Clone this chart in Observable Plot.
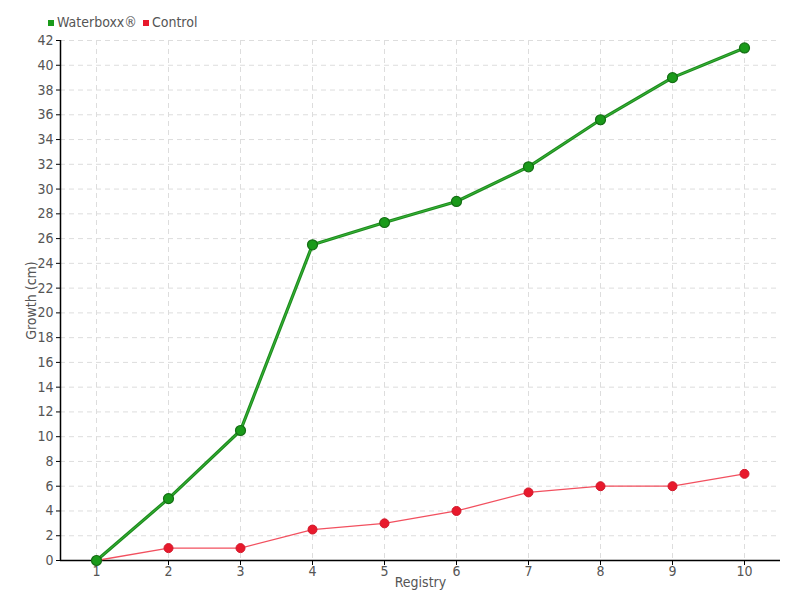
<!DOCTYPE html>
<html><head><meta charset="utf-8">
<script src="https://cdn.jsdelivr.net/npm/d3@7"></script>
<script src="https://cdn.jsdelivr.net/npm/@observablehq/plot@0.6"></script>
<style>
body{margin:0;background:#fff;font-family:"Liberation Sans Narrow","DejaVu Sans Condensed","DejaVu Sans",sans-serif;font-stretch:condensed;}
#wrap{position:relative;width:800px;height:600px;}
#legend{position:absolute;left:48px;top:14px;font-size:14px;color:#555;display:flex;gap:6px;align-items:center;}
#legend span.sw{display:inline-block;width:6px;height:6px;margin-right:3px;vertical-align:middle;}
svg text{font-stretch:condensed;}
</style></head>
<body><div id="wrap"><div id="legend"></div></div>
<script>
const registry = [1,2,3,4,5,6,7,8,9,10];
const waterboxx = [0,5,10.5,25.5,27.3,29,31.8,35.6,39,41.4];
const control = [0,1,1,2.5,3,4,5.5,6,6,7];
const yTicks = d3.range(0,43,2);
const seriesNames = ["Waterboxx®","Control"];
const seriesColors = ["#1a9a1a","#e8192c"];

const green = registry.map((r,i)=>({x:r,y:waterboxx[i]}));
const red = registry.map((r,i)=>({x:r,y:control[i]}));
const ff = '"Liberation Sans Narrow","DejaVu Sans Condensed","DejaVu Sans",sans-serif';

const chart = Plot.plot({
  width:800, height:600,
  marginLeft:60, marginRight:20, marginTop:40, marginBottom:40,
  style:{fontFamily:ff,fontSize:"14px",color:"#555",background:"#fff"},
  x:{domain:[0.5,10.5]},
  y:{domain:[0,42]},
  marks:[
    Plot.gridX(registry,{stroke:"#ddd",strokeOpacity:1,strokeDasharray:"5,4"}),
    Plot.gridY(yTicks.filter(d=>d>0),{stroke:"#ddd",strokeOpacity:1,strokeDasharray:"5,4"}),
    Plot.ruleY([0],{stroke:"#000",strokeWidth:1.5}),
    Plot.ruleX([0.5],{stroke:"#000",strokeWidth:1.5}),
    Plot.axisX({ticks:registry,tickSize:5,tickPadding:1,stroke:"#000",fill:"#555",tickFormat:d=>String(d),label:"Registry",labelAnchor:"center",labelArrow:"none",labelOffset:26}),
    Plot.axisY({ticks:yTicks,tickSize:4,tickPadding:3,stroke:"#000",fill:"#555",label:"Growth (cm)",labelAnchor:"center",labelArrow:"none",labelOffset:34}),
    Plot.line(red,{x:"x",y:"y",stroke:"#f2505f",strokeWidth:1.3}),
    Plot.dot(red,{x:"x",y:"y",r:4.5,fill:"#e8192c",stroke:"#d0182a",strokeWidth:1}),
    Plot.line(green,{x:"x",y:"y",stroke:"#1e8c1e",strokeWidth:3.2}),
    Plot.line(green,{x:"x",y:"y",stroke:"#3fbf3f",strokeWidth:0.8}),
    Plot.dot(green,{x:"x",y:"y",r:5,fill:"#1a9a1a",stroke:"#146e14",strokeWidth:1.2})
  ]
});
document.getElementById("wrap").appendChild(chart);
const lg = document.getElementById("legend");
seriesNames.forEach((n,i)=>{
  const s=document.createElement("span");
  s.innerHTML=`<span class="sw" style="background:${seriesColors[i]}"></span>${n}`;
  lg.appendChild(s);
});
</script>
</body></html>
